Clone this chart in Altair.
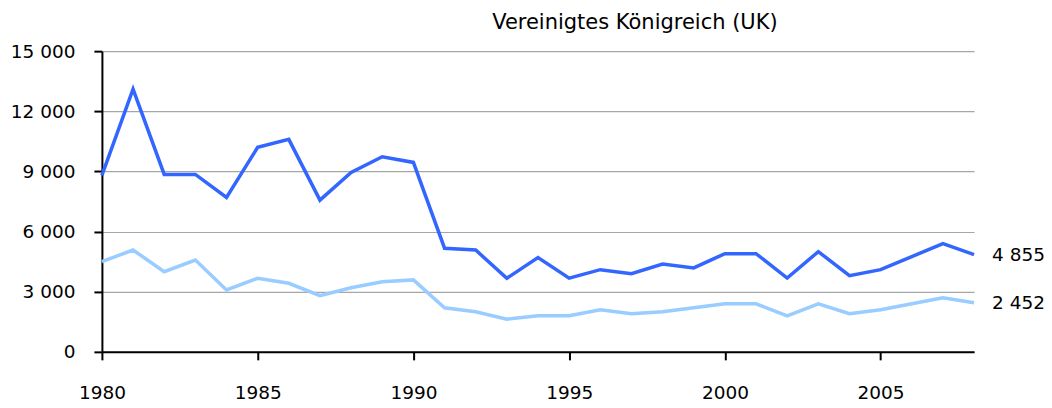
import altair as alt
import pandas as pd

years = list(range(1980, 2009))
dark = [8800, 13100, 8850, 8850, 7700, 10200, 10600, 7570, 8950, 9730, 9450,
        5170, 5080, 3670, 4700, 3680, 4100, 3900, 4380, 4190, 4900, 4900,
        3680, 5000, 3800, 4100, 4750, 5400, 4855]
light = [4500, 5080, 4000, 4580, 3090, 3670, 3420, 2800, 3200, 3500, 3590,
         2200, 2000, 1630, 1800, 1800, 2100, 1900, 2000, 2200, 2400, 2400,
         1800, 2400, 1900, 2100, 2400, 2700, 2452]
series_names = ["A", "B"]
series_colors = ["#3366FF", "#99CCFF"]
end_labels = ["4 855", "2 452"]
y_ticks = [0, 3000, 6000, 9000, 12000, 15000]
x_ticks = [1980, 1985, 1990, 1995, 2000, 2005]
title = "Vereinigtes Königreich (UK)"

rows = []
for y, a, b in zip(years, dark, light):
    rows.append({"year": y, "value": a, "series": series_names[0]})
    rows.append({"year": y, "value": b, "series": series_names[1]})
df = pd.DataFrame(rows)

ends = pd.DataFrame({
    "year": [years[-1], years[-1]],
    "value": [dark[-1], light[-1]],
    "series": series_names,
    "label": end_labels,
})

FONT = "DejaVu Sans"
FS = 18.5

x = alt.X("year:Q", scale=alt.Scale(domain=[1980, 2008], nice=False, zero=False),
          axis=alt.Axis(values=x_ticks, format="d", title=None, grid=False,
                        tickSize=8, tickColor="black", domainColor="black",
                        domainWidth=2, tickWidth=2, labelFontSize=FS,
                        labelColor="black", labelPadding=24, labelFont=FONT,
                        labelFlush=False))
y = alt.Y("value:Q", scale=alt.Scale(domain=[0, 15000], nice=False),
          axis=alt.Axis(values=y_ticks, title=None, grid=True, gridColor="#a6a6a6",
                        gridWidth=1.2, tickSize=8, tickColor="black",
                        domainColor="black", domainWidth=2, tickWidth=2,
                        labelFontSize=FS, labelColor="black", labelPadding=19,
                        labelFont=FONT,
                        labelExpr="replace(format(datum.value, ','), ',', ' ')"))
color = alt.Color("series:N", scale=alt.Scale(domain=series_names, range=series_colors),
                  legend=None)

lines = alt.Chart(df).mark_line(strokeWidth=3.5).encode(x=x, y=y, color=color)
labels = alt.Chart(ends).mark_text(align="left", dx=18, fontSize=FS, font=FONT,
                                   color="black").encode(
    x="year:Q", y="value:Q", text="label:N")

chart = alt.layer(lines, labels).properties(
    width=873, height=301,
    title=alt.TitleParams(title, fontSize=21, font=FONT, fontWeight="normal",
                          color="black", dx=97, offset=9),
    autosize=alt.AutoSizeParams(type="none"),
    padding={"left": 94, "top": 43, "right": 70, "bottom": 56},
).configure_view(stroke=None)

chart.save("out.html", embed_options={"renderer": "svg", "actions": False})
